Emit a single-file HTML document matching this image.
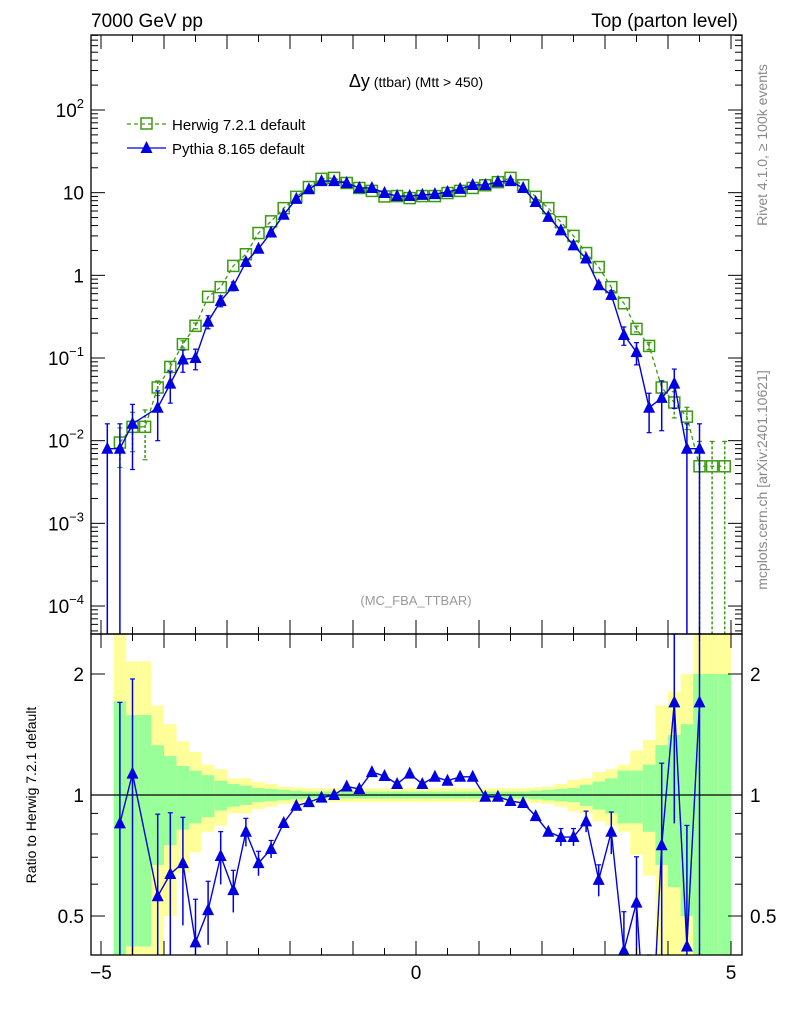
<!DOCTYPE html>
<html><head><meta charset="utf-8">
<style>
html,body{margin:0;padding:0;background:#fff;width:786px;height:1024px;overflow:hidden;}
svg{display:block;font-family:"Liberation Sans",sans-serif;}
</style></head>
<body>
<svg id="c" width="786" height="1024" viewBox="0 0 786 1024" xmlns="http://www.w3.org/2000/svg">
<g id="bands"></g>
<g id="marks"></g>
<g id="axes"></g>
<text x="91" y="27" font-size="19">7000 GeV pp</text>
<text x="738" y="27" font-size="19" text-anchor="end">Top (parton level)</text>
<text x="416" y="87" text-anchor="middle"><tspan font-size="18">Δy</tspan><tspan font-size="14"> (ttbar) (Mtt &gt; 450)</tspan></text>
<g>
<g>
<line x1="127" y1="124" x2="166" y2="124" stroke="#3a9a10" stroke-width="1.3" stroke-dasharray="4,3"/>
<rect x="141" y="118" width="11" height="11" fill="none" stroke="#3a9a10" stroke-width="1.5"/>
<text x="172" y="130" font-size="15">Herwig 7.2.1 default</text></g>
<g>
<line x1="127" y1="148" x2="166" y2="148" stroke="#0000e0" stroke-width="1.3"/>
<polygon points="146.5,141 152.5,153 140.5,153" fill="#0000e0"/>
<text x="172" y="154" font-size="15">Pythia 8.165 default</text></g>
</g>
<text x="416" y="605" font-size="13" fill="#999" text-anchor="middle">(MC_FBA_TTBAR)</text>
<text transform="translate(767,145) rotate(-90)" font-size="14" fill="#888" text-anchor="middle">Rivet 4.1.0, ≥ 100k events</text>
<text transform="translate(767,480) rotate(-90)" font-size="14" fill="#888" text-anchor="middle">mcplots.cern.ch [arXiv:2401.10621]</text>
<text transform="translate(36,795) rotate(-90)" font-size="14" text-anchor="middle">Ratio to Herwig 7.2.1 default</text>
</svg>
<script>
const binCenters=[-4.9,-4.7,-4.5,-4.3,-4.1,-3.9,-3.7,-3.5,-3.3,-3.1,-2.9,-2.7,-2.5,-2.3,-2.1,-1.9,-1.7,-1.5,-1.3,-1.1,-0.9,-0.7,-0.5,-0.3,-0.1,0.1,0.3,0.5,0.7,0.9,1.1,1.3,1.5,1.7,1.9,2.1,2.3,2.5,2.7,2.9,3.1,3.3,3.5,3.7,3.9,4.1,4.3,4.5,4.7,4.9];
const herwig=[null,0.0095,0.0147,0.0147,0.044,0.078,0.147,0.245,0.55,0.72,1.3,1.8,3.25,4.5,6.5,8.9,11.7,14.7,15.1,13.1,11.4,10.5,9.0,9.1,8.6,9.1,9.1,9.9,10.5,11.4,12.3,13.4,15.1,12.3,8.9,6.5,4.4,3.0,1.86,1.26,0.72,0.46,0.225,0.14,0.044,0.029,0.0195,0.0049,0.0049,0.0049];
const herwigRelErr=[0,0.5,0.5,0.6,0.2,0.15,0.1,0.08,0.05,0.05,0.04,0.03,0.03,0.02,0.02,0.02,0.02,0.02,0.02,0.02,0.02,0.02,0.02,0.02,0.02,0.02,0.02,0.02,0.02,0.02,0.02,0.02,0.02,0.02,0.02,0.02,0.02,0.03,0.03,0.04,0.05,0.05,0.08,0.1,0.2,0.35,0.3,1,1,1];
const pythia=[0.008,0.008,0.016,null,0.025,0.049,0.096,0.10,0.275,0.49,0.74,1.45,2.1,3.3,5.4,8.4,11,13.8,13.8,13.1,11.4,11.4,9.9,9.1,9.1,9.4,9.6,10.2,11.1,12.4,12.4,13.5,13.8,11.4,7.7,5.1,3.5,2.3,1.6,0.76,0.58,0.19,0.118,0.025,0.033,0.049,0.008,0.008,null,null];
const pythiaRelErr=[1,1,0.72,0,0.6,0.42,0.3,0.28,0.18,0.15,0.12,0.08,0.07,0.05,0.04,0.03,0.02,0.02,0.02,0.02,0.02,0.02,0.02,0.02,0.02,0.02,0.02,0.02,0.02,0.02,0.02,0.02,0.02,0.02,0.03,0.04,0.05,0.05,0.06,0.09,0.12,0.25,0.3,0.5,0.6,0.5,1,1,0,0];
const ratio=[null,0.85,1.13,null,0.56,0.636,0.677,0.43,0.517,0.705,0.58,0.81,0.677,0.734,0.852,0.94,0.96,0.985,1.0,1.05,1.035,1.14,1.115,1.065,1.13,1.065,1.11,1.085,1.11,1.11,0.99,0.99,0.966,0.955,0.886,0.81,0.786,0.786,0.86,0.615,0.81,0.41,0.54,0.18,0.75,1.70,0.42,1.70,null,null];
const greenErr=[0,0.71,0.58,0.58,0.33,0.25,0.18,0.15,0.12,0.085,0.065,0.055,0.04,0.035,0.03,0.025,0.02,0.02,0.02,0.02,0.02,0.02,0.02,0.02,0.02,0.02,0.02,0.02,0.02,0.02,0.02,0.02,0.02,0.02,0.025,0.03,0.035,0.04,0.06,0.08,0.10,0.15,0.15,0.19,0.33,0.41,0.5,1.0,1.0,1.0];
const yellowErr=[0,1.5,1.15,1.15,0.67,0.5,0.36,0.28,0.19,0.16,0.10,0.10,0.077,0.065,0.05,0.045,0.04,0.04,0.04,0.04,0.04,0.04,0.04,0.04,0.04,0.04,0.04,0.04,0.04,0.04,0.04,0.04,0.04,0.04,0.045,0.05,0.065,0.09,0.1,0.14,0.16,0.19,0.29,0.37,0.67,0.81,1.0,2.0,2.0,2.0];
const mainTicks=[{v:2,t:"10",s:"2"},{v:1,t:"10",s:""},{v:0,t:"1",s:""},{v:-1,t:"10",s:"−1"},{v:-2,t:"10",s:"−2"},{v:-3,t:"10",s:"−3"},{v:-4,t:"10",s:"−4"}];
const ratioTicks=[0.5,1,2];
const xTickLabels=[-5,0,5];

const NS="http://www.w3.org/2000/svg";
const L=91,R=742,MT=35,MB=634,RB=955;
const X=x=>416+63*x;
const YM=v=>110-82.67*(Math.log10(v)-2);
const YR=r=>795-402*Math.log10(r);
const GREEN="#3a9a10",BLUE="#0000e0";
function el(tag,attrs,parent){const e=document.createElementNS(NS,tag);for(const k in attrs)e.setAttribute(k,attrs[k]);parent.appendChild(e);return e;}
const bands=document.getElementById('bands'),marks=document.getElementById('marks'),axes=document.getElementById('axes');
const clipM=v=>Math.max(MT,Math.min(MB,v));
const clipR=v=>Math.max(MB,Math.min(RB,v));

binCenters.forEach((c,i)=>{
  [[yellowErr[i],"#ffff99","yellow-band"],[greenErr[i],"#99ff99","green-band"]].forEach(([e,col,nm])=>{
    if(!e)return;
    const top=clipR(YR(1+e)),lo=1-e,bot=lo>0?clipR(YR(lo)):RB;
    const r=el('rect',{x:X(c-0.1),y:top,width:63*0.2,height:bot-top,fill:col},bands);
    
    
  });
});
el('line',{x1:L,y1:YR(1),x2:R,y2:YR(1),stroke:'#000','stroke-width':1.2},bands);

function tri(x,y,p,nm){const t=el('polygon',{points:`${x},${y-7} ${x+6},${y+5} ${x-6},${y+5}`,fill:BLUE},p);}
function ebar(x,y1,y2,col,p,dash){el('line',{x1:x,y1:y1,x2:x,y2:y2,stroke:col,'stroke-width':1.5,'stroke-dasharray':dash||'none'},p);
 el('line',{x1:x-2.5,y1:y1,x2:x+2.5,y2:y1,stroke:col,'stroke-width':1.2},p);
 if(y2<MB-1&&y2<RB-1)el('line',{x1:x-2.5,y1:y2,x2:x+2.5,y2:y2,stroke:col,'stroke-width':1.2},p);}

let hp=[];
binCenters.forEach((c,i)=>{const v=herwig[i];if(v==null)return;const x=X(c),y=YM(v);hp.push(x+','+y);
 const e=herwigRelErr[i];if(e>0.06){const lo=v*(1-e);ebar(x,clipM(YM(v*(1+e))),lo>0?clipM(YM(lo)):MB,GREEN,marks,'3,2');}});
el('polyline',{points:hp.join(' '),fill:'none',stroke:GREEN,'stroke-width':1.3,'stroke-dasharray':'4,3'},marks);
binCenters.forEach((c,i)=>{const v=herwig[i];if(v==null)return;
 const r=el('rect',{x:X(c)-5.5,y:YM(v)-5.5,width:11,height:11,fill:'none',stroke:GREEN,'stroke-width':1.5},marks);
 
 });
let pp=[];
binCenters.forEach((c,i)=>{const v=pythia[i];if(v==null)return;pp.push(X(c)+','+YM(v));});
el('polyline',{points:pp.join(' '),fill:'none',stroke:BLUE,'stroke-width':1.4},marks);
binCenters.forEach((c,i)=>{const v=pythia[i];if(v==null)return;const x=X(c),y=YM(v);const e=pythiaRelErr[i];
 if(e>0.04){const lo=v*(1-e);ebar(x,clipM(YM(v*(1+e))),lo>0?clipM(YM(lo)):MB,BLUE,marks);}
 tri(x,y,marks,'pythia-point');});
let rp=[];
binCenters.forEach((c,i)=>{const v=ratio[i];if(v==null)return;rp.push(X(c)+','+YR(v));});
const cp=el('clipPath',{id:'rc'},marks);el('rect',{x:L,y:MB,width:R-L,height:RB-MB},cp);
const rl=el('polyline',{points:rp.join(' '),fill:'none',stroke:BLUE,'stroke-width':1.4},marks);


rl.setAttribute('clip-path','url(#rc)');
binCenters.forEach((c,i)=>{const v=ratio[i];if(v==null)return;const x=X(c),y=YR(v);const e=pythiaRelErr[i];
 if(e>0.04){const lo=v*(1-e);ebar(x,clipR(YR(v*(1+e))),lo>0?clipR(YR(lo)):RB,BLUE,marks);}
 if(y>MB&&y<RB)tri(x,y,marks,'ratio-point');});

el('rect',{x:L,y:MT,width:R-L,height:MB-MT,fill:'none',stroke:'#000','stroke-width':1.3},axes);
el('rect',{x:L,y:MB,width:R-L,height:RB-MB,fill:'none',stroke:'#000','stroke-width':1.3},axes);
for(let d=-5;d<=2;d++){for(let m=1;m<=9;m++){const v=m*Math.pow(10,d);const y=YM(v);if(y<MT||y>MB)continue;const len=m==1?14:7;
 el('line',{x1:L,y1:y,x2:L+len,y2:y,stroke:'#000'},axes);el('line',{x1:R-len,y1:y,x2:R,y2:y,stroke:'#000'},axes);}}
mainTicks.forEach(t=>{const y=YM(Math.pow(10,t.v));const tx=el('text',{x:84,y:y+7,'font-size':19,'text-anchor':'end'},axes);
 
 
 tx.textContent=t.t;if(t.s){tx.textContent='';const a=el('tspan',{},tx);a.textContent=t.t;const b=el('tspan',{dy:-9,'font-size':13},tx);b.textContent=t.s;}});
[0.4,0.5,0.6,0.7,0.8,0.9,1,2].forEach(v=>{const y=YR(v);const len=(v==0.5||v==1||v==2)?14:7;
 el('line',{x1:L,y1:y,x2:L+len,y2:y,stroke:'#000'},axes);el('line',{x1:R-len,y1:y,x2:R,y2:y,stroke:'#000'},axes);});
ratioTicks.forEach(v=>{const y=YR(v);[[84,'end'],[750,'start']].forEach(([x,a])=>{const t=el('text',{x:x,y:y+7,'font-size':19,'text-anchor':a},axes);
 
 
 t.textContent=String(v);});});
for(let k=-10;k<=10;k++){const x=X(k/2);const maj=k%2==0;const len=maj?14:7;
 [[MT,1],[MB,-1],[MB,1],[RB,-1]].forEach(([y0,s])=>el('line',{x1:x,y1:y0,x2:x,y2:y0+s*len,stroke:'#000'},axes));}
xTickLabels.forEach(v=>{const t=el('text',{x:X(v),y:979,'font-size':19,'text-anchor':'middle'},axes);
 
 
 t.textContent=v<0?'−'+Math.abs(v):String(v);});
</script>
</body></html>
